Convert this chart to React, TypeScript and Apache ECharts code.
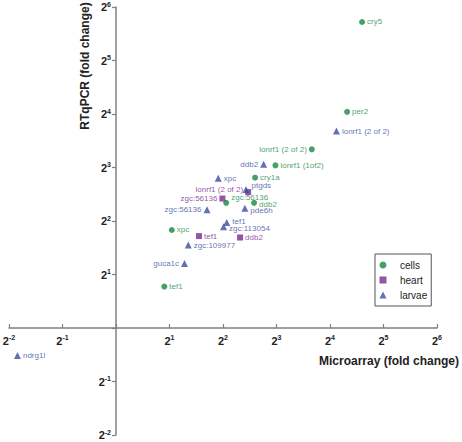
import { useEffect, useRef } from 'react';
import * as echarts from 'echarts';

// Fold changes (x: microarray, y: RTqPCR)
const cellsGenes = ['cry5', 'per2', 'lonrf1 (2 of 2)', 'lonrf1 (1of2)', 'cry1a', 'zgc:56136', 'ddb2', 'xpc', 'tef1'];
const cellsMicroarray = [24.25, 19.97, 12.64, 7.89, 6.06, 4.17, 5.98, 2.06, 1.87];
const cellsRtqpcr = [52.7, 16.45, 10.13, 8.22, 7.01, 5.06, 5.06, 3.56, 1.71];

const heartGenes = ['lonrf1 (2 of 2)', 'zgc:56136', 'tef1', 'ddb2'];
const heartMicroarray = [5.54, 3.97, 2.93, 4.99];
const heartRtqpcr = [5.82, 5.35, 3.29, 3.23];

const larvaeGenes = ['lonrf1 (2 of 2)', 'ddb2', 'xpc', 'ptgds', 'pde6h', 'zgc:56136', 'tef1', 'zgc:113054', 'zgc:109977', 'guca1c', 'ndrg1l'];
const larvaeMicroarray = [17.39, 6.77, 3.76, 5.39, 5.31, 3.25, 4.2, 4.03, 2.55, 2.43, 0.279];
const larvaeRtqpcr = [12.82, 8.34, 6.96, 6.02, 4.72, 4.63, 3.92, 3.71, 2.93, 2.31, 0.7];

const seriesNames = ['cells', 'heart', 'larvae'];
const axisExponents = [-2, -1, 0, 1, 2, 3, 4, 5, 6];

const xTitle = 'Microarray (fold change)';
const yTitle = 'RTqPCR (fold change)';

// label placement (style, not data)
const leftLabels: Record<string, string[]> = {
  cells: ['lonrf1 (2 of 2)'],
  heart: ['lonrf1 (2 of 2)', 'zgc:56136'],
  larvae: ['ddb2', 'zgc:56136', 'guca1c'],
};
// vertical shift of a label in px (negative = up)
const shiftedLabels: Record<string, Record<string, number>> = {
  cells: { 'zgc:56136': -5, ddb2: 2 },
  heart: { 'lonrf1 (2 of 2)': -3 },
  larvae: { ptgds: -4, pde6h: 2, tef1: -1.5, 'zgc:113054': 1.5 },
};

const FONT = 'Liberation Sans, Arial, Helvetica, sans-serif';
const COLORS: Record<string, string> = { cells: '#178a42', heart: '#7a2a8e', larvae: '#3a4e9f' };
const SYMBOLS: Record<string, string> = { cells: 'circle', heart: 'rect', larvae: 'triangle' };
const SIZES: Record<string, number> = { cells: 6, heart: 6, larvae: 7 };

function buildSeries(key: string, genes: string[], xs: number[], ys: number[]) {
  return {
    name: key,
    type: 'scatter',
    symbol: SYMBOLS[key],
    symbolSize: SIZES[key],
    itemStyle: { color: COLORS[key] },
    data: genes.map((g, i) => ({
      name: g,
      value: [Math.log2(xs[i]), Math.log2(ys[i])],
      label: { position: leftLabels[key].includes(g) ? 'left' : 'right' },
    })),
    label: {
      show: true,
      formatter: '{b}',
      distance: 2,
      fontSize: 8,
      fontFamily: FONT,
      color: COLORS[key],
    },
    labelLayout: (p: any) => ({
      dy: shiftedLabels[key][genes[p.dataIndex]] || 0,
      hideOverlap: false,
    }),
  };
}

const supFormatter = (v: number) => (v === 0 ? '' : '{b|2}{s|' + v + '}');
const richLabels = {
  b: { fontSize: 11, fontWeight: 'bold', fontFamily: FONT, color: '#222', lineHeight: 13 },
  s: { fontSize: 7, fontWeight: 'bold', fontFamily: FONT, color: '#222', lineHeight: 8, verticalAlign: 'top' },
};

// grid geometry
const GRID_LEFT = 9;
const GRID_TOP = 7;
const GRID_W = 428;
const GRID_H = 428;

export default function App() {
  const ref = useRef<HTMLDivElement>(null);
  useEffect(() => {
    if (!ref.current) return;
    const chart = echarts.init(ref.current, undefined, { renderer: 'svg' });
    const axisMin = axisExponents[0];
    const axisMax = axisExponents[axisExponents.length - 1];
    const span = axisMax - axisMin;
    // place each axis line at the other axis's value 0 (2^0 = 1)
    const xOffset = -((0 - axisMin) / span) * GRID_H;
    const yOffset = -((0 - axisMin) / span) * GRID_W;
    chart.setOption({
      animation: false,
      backgroundColor: '#fff',
      grid: {
        left: GRID_LEFT,
        top: GRID_TOP,
        width: GRID_W,
        height: GRID_H,
        containLabel: false,
        outerBoundsMode: 'none',
      },
      xAxis: {
        type: 'value',
        min: axisMin,
        max: axisMax,
        interval: 1,
        offset: xOffset,
        axisLine: { onZero: false, lineStyle: { color: '#808080', width: 1.5 } },
        axisTick: { inside: true, length: 4, lineStyle: { color: '#808080', width: 1.2 } },
        axisLabel: {
          margin: 6,
          formatter: supFormatter,
          rich: richLabels,
          showMinLabel: true,
          showMaxLabel: true,
          alignMinLabel: 'center',
          alignMaxLabel: 'center',
          hideOverlap: false,
        },
        splitLine: { show: false },
      },
      yAxis: {
        type: 'value',
        min: axisMin,
        max: axisMax,
        interval: 1,
        offset: yOffset,
        axisLine: { onZero: false, lineStyle: { color: '#808080', width: 1.5 } },
        axisTick: { inside: false, length: 4, lineStyle: { color: '#808080', width: 1.2 } },
        axisLabel: {
          margin: 5,
          formatter: supFormatter,
          rich: richLabels,
          showMinLabel: true,
          showMaxLabel: true,
          verticalAlignMinLabel: 'middle',
          verticalAlignMaxLabel: 'middle',
          hideOverlap: false,
        },
        splitLine: { show: false },
      },
      legend: {
        orient: 'vertical',
        left: 375,
        top: 254,
        borderColor: '#555',
        borderWidth: 1,
        backgroundColor: '#fff',
        padding: [5, 4, 5, 4.5],
        itemGap: 3,
        itemWidth: 7,
        itemHeight: 7,
        textStyle: { fontSize: 10, fontFamily: FONT, color: '#222', lineHeight: 12, padding: [0, 0, 0, 8.5] },
        data: seriesNames,
      },
      graphic: [
        {
          type: 'text',
          x: 459,
          y: 361,
          style: { text: xTitle, font: 'bold 12px ' + FONT, fill: '#222', align: 'right', verticalAlign: 'middle' },
        },
        {
          type: 'text',
          x: 85,
          y: 66,
          rotation: Math.PI / 2,
          style: { text: yTitle, font: 'bold 12px ' + FONT, fill: '#222', align: 'center', verticalAlign: 'middle' },
        },
      ],
      series: [
        buildSeries('cells', cellsGenes, cellsMicroarray, cellsRtqpcr),
        buildSeries('heart', heartGenes, heartMicroarray, heartRtqpcr),
        buildSeries('larvae', larvaeGenes, larvaeMicroarray, larvaeRtqpcr),
      ],
    });
    return () => chart.dispose();
  }, []);
  return <div ref={ref} style={{ position: 'absolute', left: 0, top: 0, width: 462, height: 442 }} />;
}
